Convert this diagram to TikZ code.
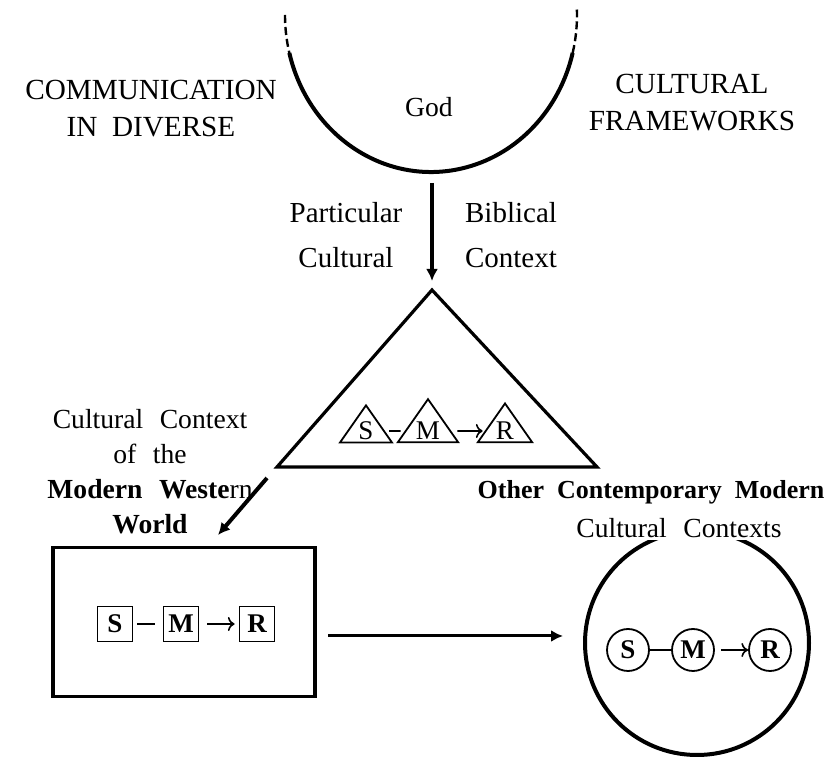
\documentclass[tikz,border=0pt]{standalone}
\usepackage{fontspec}
\setmainfont{Liberation Serif}
\usepackage{tikz}
\usetikzlibrary{calc}
\usetikzlibrary{arrows.meta,positioning,shapes.geometric}

\begin{document}
\begin{tikzpicture}[x=0.5pt,y=-0.5pt,
	txt/.style={font={\fontsize{13.8}{17.5}\selectfont\spaceskip=0.6em\relax},align=center,inner sep=1pt},
	capstxt/.style={txt,font={\fontsize{14.6}{18.5}\selectfont\spaceskip=0.5em\relax}},
	arr/.style={line width=2pt,-{Latex[length=6pt,width=6pt]}},
	tri/.style={draw,line width=0.9pt,shape=isosceles triangle,shape border rotate=90,isosceles triangle apex angle=70,inner sep=1.2pt,font=\fontsize{13.5}{15}\selectfont},
	sq/.style={draw,line width=0.9pt,minimum size=17.5pt,inner sep=0pt,font=\fontsize{13.5}{15}\selectfont\bfseries},
	circ/.style={draw,line width=0.9pt,circle,minimum size=21pt,inner sep=0pt,font=\fontsize{13.5}{15}\selectfont\bfseries},
	link/.style={line width=0.8pt}]
	\useasboundingbox (0,0) rectangle (831,758);
	% God
	\draw[line width=1.2pt,dash pattern=on 4pt off 2pt] (285,15) arc[start angle=180,end angle=166,x radius=146,y radius=157] coordinate (cupl);
	\draw[line width=2pt] (cupl) arc[start angle=166,end angle=14,x radius=146,y radius=157] coordinate (cupr);
	\draw[line width=1.2pt,dash pattern=on 4pt off 2pt] (cupr) arc[start angle=14,end angle=-2,x radius=146,y radius=157];
	\node (god) at (429,107) {\fontsize{13.8}{15}\selectfont God};
	\node[capstxt] (comm) at (151,109) {COMMUNICATION\\IN DIVERSE};
	\node[capstxt] (frame) at (692,103) {CULTURAL\\FRAMEWORKS};
	% biblical context
	\coordinate (cup) at (432,183);
	\coordinate (apex) at (432,290);
	\coordinate (bl) at (277,467);
	\coordinate (br) at (597,467);
	\draw[arr] (cup) -- ($(apex)+(0,-9)$);
	\node[txt,font={\fontsize{14.5}{22.5}\selectfont}] (partic) at (346,235) {Particular\\Cultural};
	\node[txt,font={\fontsize{14.5}{22.5}\selectfont}] (bibl) at (511,235) {Biblical\\Context};
	\draw[line width=1.6pt,line join=miter] (apex) -- (bl) -- (br) -- cycle;
	\node[tri] (ts) at (366,431) {S};
	\node[tri] (tm) at (428,431) {M};
	\node[tri] (tr) at (505,431) {R};
	\draw[link,shorten <=2pt,shorten >=2pt] (ts) -- (tm);
	\draw[link,->,shorten <=3pt,shorten >=1pt] (tm) -- (tr);
	% western world
	\node[txt] (west) at (150,472) {Cultural Context\\of the\\{\bfseries Modern Weste}rn\\\bfseries World};
	\coordinate (wfrom) at (267,478);
	\coordinate (wto) at (218,535);
	\draw[arr] (wfrom) -- (wto);
	\node[draw,line width=1.6pt,minimum width=131pt,minimum height=74.5pt] (wbox) at (184,622) {};
	\node[sq] (bs) at (115,624) {S};
	\node[sq] (bm) at (181,624) {M};
	\node[sq] (bR) at (257,624) {R};
	\draw[link,shorten <=2pt,shorten >=4pt] (bs) -- (bm);
	\draw[link,->,shorten <=4pt,shorten >=2pt] (bm) -- (bR);
	% other contexts
	\coordinate (hfrom) at (328,636);
	\coordinate (hto) at (563,636);
	\draw[arr,line width=1.5pt] (hfrom) -- (hto);
	\node[draw,circle,line width=2pt,minimum size=112pt,inner sep=0pt] (ocirc) at (697,643) {};
	\node[txt,font={\fontsize{13}{15}\selectfont\bfseries\spaceskip=0.5em\relax}] (other) at (651,492) {Other Contemporary Modern};
	\node[txt,fill=white] (ctxs) at (679,528) {Cultural Contexts};
	\node[circ] (cs) at (628,650) {S};
	\node[circ] (cm) at (693,650) {M};
	\node[circ] (cR) at (770,650) {R};
	\draw[link] (cs) -- (cm);
	\draw[link,->,shorten <=3pt] (cm) -- (cR);
\end{tikzpicture}
\end{document}
